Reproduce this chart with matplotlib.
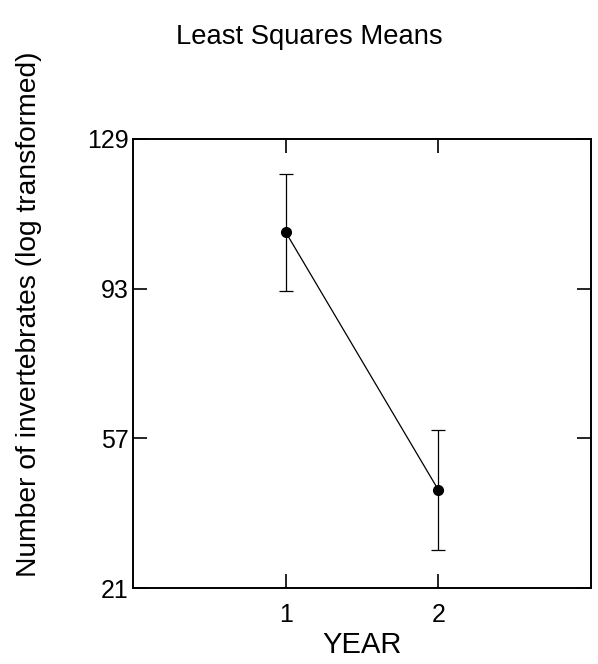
import matplotlib.pyplot as plt

plt.rcParams['font.family'] = ['Liberation Sans', 'DejaVu Sans']

# Least squares means per year, with error bar half-widths
years = [1, 2]
means = [106.6, 44.6]
errors = [14.1, 14.4]
y_ticks = [21, 57, 93, 129]

fig = plt.figure(figsize=(5.98, 6.64), dpi=100)
ax = fig.add_axes([133 / 598, 1 - 588 / 664, (591 - 133) / 598, (588 - 139) / 664])

ax.errorbar(years, means, yerr=errors, color='black', marker='o', markersize=7,
            linewidth=0.9, elinewidth=0.9, capsize=5, capthick=0.9)

ax.set_xlim(0, 3)
ax.set_ylim(21, 129)
ax.set_xticks(years)
ax.set_yticks(y_ticks)
ax.tick_params(direction='in', top=True, right=True, length=10, width=1.2,
               labelsize=18)
ax.tick_params(axis='x', pad=11)
ax.tick_params(axis='y', pad=3)
for s in ax.spines.values():
    s.set_linewidth(1.4)

ax.set_xlabel('YEAR', fontsize=21, labelpad=3)
fig.text(309 / 598, 1 - 37 / 664, 'Least Squares Means', fontsize=19.7,
         ha='center', va='center')
fig.text(29 / 598, 1 - 314 / 664, 'Number of invertebrates (log transformed)',
         fontsize=20.3, rotation=90, ha='center', va='center')

fig.savefig('out.png', dpi=100)
